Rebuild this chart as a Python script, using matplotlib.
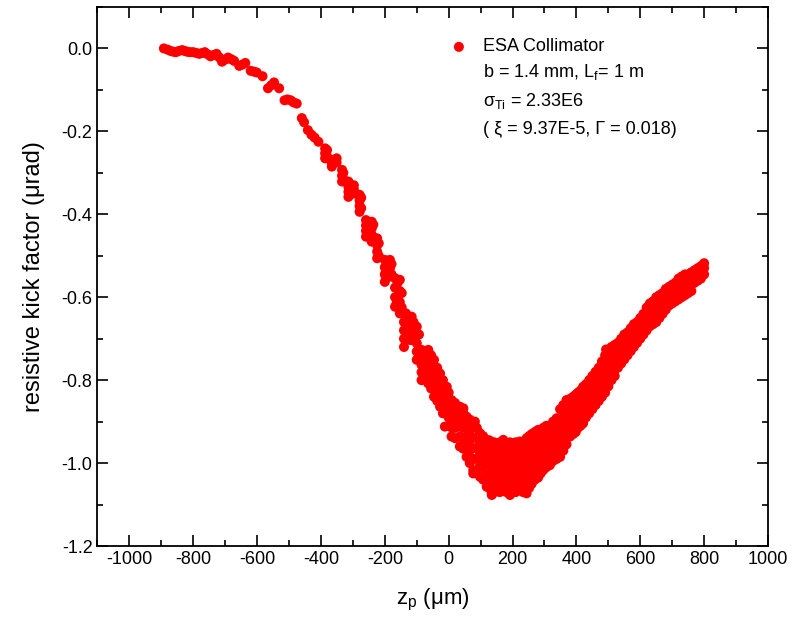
import numpy as np
import matplotlib
matplotlib.use("Agg")
import matplotlib.pyplot as plt
from matplotlib.ticker import MultipleLocator, FormatStrFormatter

plt.rcParams['font.family'] = ['Liberation Sans', 'DejaVu Sans']
plt.rcParams['mathtext.fontset'] = 'custom'
plt.rcParams['mathtext.rm'] = 'Liberation Sans'
plt.rcParams['mathtext.it'] = 'Liberation Sans:italic'
plt.rcParams['axes.unicode_minus'] = False

# sparse head of the curve, one point per position
z_head = [-892, -880, -871, -862, -854, -845, -835, -827, -819, -810, -800, -790,
          -781, -772, -764, -755, -746, -737, -727, -718, -710, -700, -691, -681,
          -672, -656, -646, -637, -620, -610, -601, -583, -566, -556, -547, -531,
          -514, -505, -495, -486, -476, -460, -453, -441, -430, -420, -408]
k_head = [0.000, -0.003, -0.006, -0.008, -0.009, -0.006, -0.004, -0.006, -0.008,
          -0.009, -0.009, -0.011, -0.013, -0.011, -0.009, -0.014, -0.019, -0.016,
          -0.013, -0.022, -0.032, -0.027, -0.022, -0.026, -0.030, -0.042, -0.039,
          -0.035, -0.054, -0.056, -0.058, -0.067, -0.096, -0.089, -0.082, -0.096,
          -0.125, -0.123, -0.125, -0.130, -0.133, -0.168, -0.178, -0.197, -0.208,
          -0.215, -0.225]

# columns of points (same z, several kick values)
col_z = [-387, -366, -351, -334, -314, -297, -279, -259, -241, -224, -200, -184,
         -168, -163, -153, -140, -134, -121, -116, -100, -85, -64, -46, -27, -12,
         -6, 9, 35, 46, 56, 77, 82, 98, 119, 135]
col_k = [
    [-0.241, -0.253, -0.265],
    [-0.269, -0.277, -0.285],
    [-0.265, -0.275],
    [-0.293, -0.307, -0.321],
    [-0.321, -0.334, -0.346, -0.358],
    [-0.330, -0.340, -0.350],
    [-0.353, -0.367, -0.380, -0.394],
    [-0.414, -0.427, -0.440, -0.454],
    [-0.418, -0.434, -0.450, -0.466],
    [-0.458, -0.474, -0.490, -0.506],
    [-0.510, -0.528, -0.545, -0.563],
    [-0.510, -0.530, -0.550],
    [-0.554, -0.577, -0.600, -0.623],
    [-0.615],
    [-0.558, -0.585, -0.612, -0.639],
    [-0.639, -0.660, -0.680, -0.700, -0.720],
    [-0.639, -0.660, -0.680, -0.703],
    [-0.647, -0.666, -0.685, -0.703],
    [-0.647, -0.675, -0.703],
    [-0.671, -0.691, -0.711, -0.731, -0.751],
    [-0.727, -0.745, -0.763, -0.781, -0.800],
    [-0.727, -0.747, -0.767, -0.787, -0.808],
    [-0.751, -0.773, -0.795, -0.817, -0.840],
    [-0.784, -0.804, -0.824, -0.844, -0.864],
    [-0.912],
    [-0.816, -0.835, -0.853, -0.872],
    [-0.848, -0.870, -0.892, -0.914, -0.936],
    [-0.864, -0.888, -0.912, -0.936, -0.960],
    [-0.868],
    [-0.888, -0.912, -0.936, -0.960, -0.985],
    [-0.912, -0.938, -0.964, -0.990, -1.017, -1.025],
    [-0.900],
    [-0.928, -0.954, -0.980, -1.006, -1.033],
    [-0.944, -0.972, -1.000, -1.028, -1.057],
    [-0.950, -0.980, -1.010, -1.040, -1.073, -1.077],
]

# extra points between the columns above
fill_z = [-381, -330, -309, -274, -254, -236, -219, -195, -179, -160, -147, -128,
          -110, -93, -75, -55, -36, -18, 0, 20, 45, 66, 88, 108, 127, 143]
fill_k = [
    [-0.245, -0.260],
    [-0.300, -0.315],
    [-0.330, -0.350],
    [-0.360, -0.385],
    [-0.420, -0.445],
    [-0.425, -0.455],
    [-0.470, -0.500],
    [-0.515, -0.550],
    [-0.520, -0.545],
    [-0.565, -0.610],
    [-0.590, -0.625],
    [-0.650, -0.690],
    [-0.660, -0.700],
    [-0.690, -0.735],
    [-0.730, -0.750, -0.770, -0.790],
    [-0.740, -0.760, -0.780, -0.800, -0.820],
    [-0.770, -0.790, -0.810, -0.830, -0.850],
    [-0.800, -0.820, -0.840, -0.860, -0.880],
    [-0.830, -0.850, -0.870, -0.890, -0.910],
    [-0.855, -0.875, -0.895, -0.915, -0.940],
    [-0.875, -0.895, -0.915, -0.940, -0.965],
    [-0.895, -0.920, -0.945, -0.970, -1.000],
    [-0.915, -0.940, -0.965, -0.990, -1.020],
    [-0.935, -0.960, -0.985, -1.010, -1.040],
    [-0.945, -0.970, -1.000, -1.030, -1.060],
    [-0.950, -0.975, -1.000, -1.030, -1.055, -1.070],
]

# bottom of the dip
dip_z = [150, 160, 171, 181, 192, 201, 210, 216, 223, 233, 244, 252, 260, 270,
         280, 288, 296, 306, 317, 327, 338, 349, 359, 369, 380, 390, 398, 405,
         413, 421]
dip_k = [
    [-0.955, -0.975, -0.995, -1.015, -1.035, -1.060],
    [-0.950, -0.975, -1.000, -1.025, -1.050, -1.070],
    [-0.944, -0.965, -0.990, -1.015, -1.040, -1.065],
    [-0.955, -0.980, -1.005, -1.030, -1.055, -1.070],
    [-0.950, -0.975, -1.000, -1.025, -1.050, -1.077],
    [-0.960, -0.985, -1.010, -1.035, -1.060],
    [-0.950, -0.975, -1.000, -1.025, -1.050, -1.070],
    [-0.955, -0.980, -1.005, -1.030, -1.055],
    [-0.948, -0.972, -0.995, -1.020, -1.045, -1.065],
    [-0.950, -0.975, -1.000, -1.025, -1.050, -1.070],
    [-0.940, -0.965, -0.990, -1.020, -1.045, -1.073],
    [-0.935, -0.960, -0.985, -1.010, -1.035, -1.060],
    [-0.930, -0.955, -0.980, -1.000, -1.025, -1.050],
    [-0.925, -0.950, -0.975, -1.000, -1.020, -1.040],
    [-0.920, -0.945, -0.965, -0.990, -1.010, -1.035],
    [-0.920, -0.940, -0.960, -0.980, -1.000, -1.025],
    [-0.915, -0.935, -0.955, -0.975, -0.995, -1.017],
    [-0.910, -0.930, -0.950, -0.970, -0.990, -1.010],
    [-0.912, -0.930, -0.950, -0.970, -0.988, -1.005],
    [-0.900, -0.920, -0.940, -0.960, -0.980, -0.995],
    [-0.892, -0.910, -0.930, -0.950, -0.970, -0.990],
    [-0.870, -0.892, -0.915, -0.940, -0.962, -0.985],
    [-0.860, -0.880, -0.900, -0.920, -0.945, -0.970],
    [-0.848, -0.870, -0.890, -0.910, -0.930, -0.955],
    [-0.845, -0.865, -0.885, -0.905, -0.920, -0.936],
    [-0.840, -0.860, -0.880, -0.900, -0.915, -0.930],
    [-0.835, -0.855, -0.875, -0.895, -0.910, -0.925],
    [-0.830, -0.850, -0.870, -0.890, -0.905, -0.915],
    [-0.825, -0.845, -0.865, -0.880, -0.895, -0.910],
    [-0.816, -0.835, -0.855, -0.875, -0.890, -0.904],
]

# rising tail
tail_z = [430, 440, 450, 460, 470, 480, 490, 493, 500, 510, 520, 530, 540, 550,
          560, 570, 580, 590, 600, 610, 620, 630, 640, 650, 660, 670, 680, 690,
          700, 710, 720, 730, 740, 750, 760, 770, 780, 790, 800]
tail_k = [
    [-0.810, -0.830, -0.850, -0.870, -0.890],
    [-0.800, -0.820, -0.840, -0.860, -0.880],
    [-0.790, -0.810, -0.830, -0.850, -0.870],
    [-0.780, -0.800, -0.820, -0.840, -0.860],
    [-0.770, -0.790, -0.810, -0.830, -0.850],
    [-0.755, -0.775, -0.795, -0.815, -0.840],
    [-0.740, -0.760, -0.780, -0.800, -0.830],
    [-0.726],
    [-0.730, -0.750, -0.770, -0.790, -0.815],
    [-0.720, -0.740, -0.760, -0.780, -0.800],
    [-0.715, -0.735, -0.755, -0.775, -0.790],
    [-0.710, -0.730, -0.750, -0.770],
    [-0.700, -0.720, -0.740, -0.760],
    [-0.690, -0.710, -0.730, -0.750],
    [-0.685, -0.700, -0.720, -0.740],
    [-0.675, -0.690, -0.710, -0.730],
    [-0.665, -0.680, -0.700, -0.720],
    [-0.660, -0.675, -0.690, -0.710],
    [-0.650, -0.665, -0.680, -0.700],
    [-0.640, -0.655, -0.670, -0.690],
    [-0.625, -0.645, -0.660, -0.680],
    [-0.615, -0.635, -0.650, -0.670],
    [-0.610, -0.625, -0.645, -0.665],
    [-0.600, -0.620, -0.640, -0.660],
    [-0.595, -0.610, -0.630, -0.650],
    [-0.590, -0.605, -0.620, -0.640],
    [-0.580, -0.595, -0.610, -0.630],
    [-0.575, -0.590, -0.605, -0.620],
    [-0.570, -0.585, -0.600, -0.615],
    [-0.565, -0.580, -0.595, -0.610],
    [-0.555, -0.570, -0.585, -0.605],
    [-0.550, -0.565, -0.580, -0.600],
    [-0.545, -0.560, -0.575, -0.595],
    [-0.545, -0.560, -0.575, -0.590],
    [-0.540, -0.555, -0.570, -0.585],
    [-0.535, -0.550, -0.565],
    [-0.530, -0.545, -0.560],
    [-0.525, -0.540, -0.555],
    [-0.518, -0.530, -0.545],
]


def expand(zs, ks):
    zz, kk = [], []
    for z, col in zip(zs, ks):
        zz += [z] * len(col)
        kk += col
    return zz, kk


zc, kc = expand(col_z, col_k)
zf, kf = expand(fill_z, fill_k)
zd, kd = expand(dip_z, dip_k)
zt, kt = expand(tail_z, tail_k)
z_all = np.array(z_head + zc + zf + zd + zt, dtype=float)
k_all = np.array(k_head + kc + kf + kd + kt, dtype=float)

fig = plt.figure(figsize=(7.95, 6.34), dpi=100)
ax = fig.add_axes([0.1226, 0.1388, 0.8434, 0.8502])

red = '#ff0000'
ax.scatter(z_all, k_all, s=52, color=red, edgecolors='none')

ax.set_xlim(-1100, 1000)
ax.set_ylim(-1.2, 0.1)
ax.xaxis.set_major_locator(MultipleLocator(200))
ax.xaxis.set_minor_locator(MultipleLocator(100))
ax.yaxis.set_major_locator(MultipleLocator(0.2))
ax.yaxis.set_minor_locator(MultipleLocator(0.1))
ax.yaxis.set_major_formatter(FormatStrFormatter('%.1f'))
ax.tick_params(which='both', direction='in', top=True, right=True, labelsize=13, width=1.2)
ax.tick_params(which='major', length=8)
ax.tick_params(which='minor', length=4)
for sp in ax.spines.values():
    sp.set_linewidth(1.3)

ax.set_xlabel(r'z$_\mathrm{p}$ ($\mathrm{\mu}$m)', fontsize=16, labelpad=14)
ax.set_ylabel(r'resistive kick factor (μrad)', fontsize=17, labelpad=12)

# legend block drawn by hand
ax.scatter([0.539], [0.926], s=52, color=red, edgecolors='none', transform=ax.transAxes)
ax.text(0.575, 0.926, 'ESA Collimator', transform=ax.transAxes, fontsize=13, va='center')
ax.text(0.575, 0.879, r'b = 1.4 mm, L$_\mathrm{f}$= 1 m', transform=ax.transAxes,
        fontsize=13, va='center')
ax.text(0.575, 0.826, r'σ$_\mathrm{Ti}$ = 2.33E6', transform=ax.transAxes,
        fontsize=13, va='center')
ax.text(0.575, 0.772, '( ξ = 9.37E-5, Γ = 0.018)', transform=ax.transAxes,
        fontsize=13, va='center')

plt.savefig('out.png', dpi=100)
plt.close()
